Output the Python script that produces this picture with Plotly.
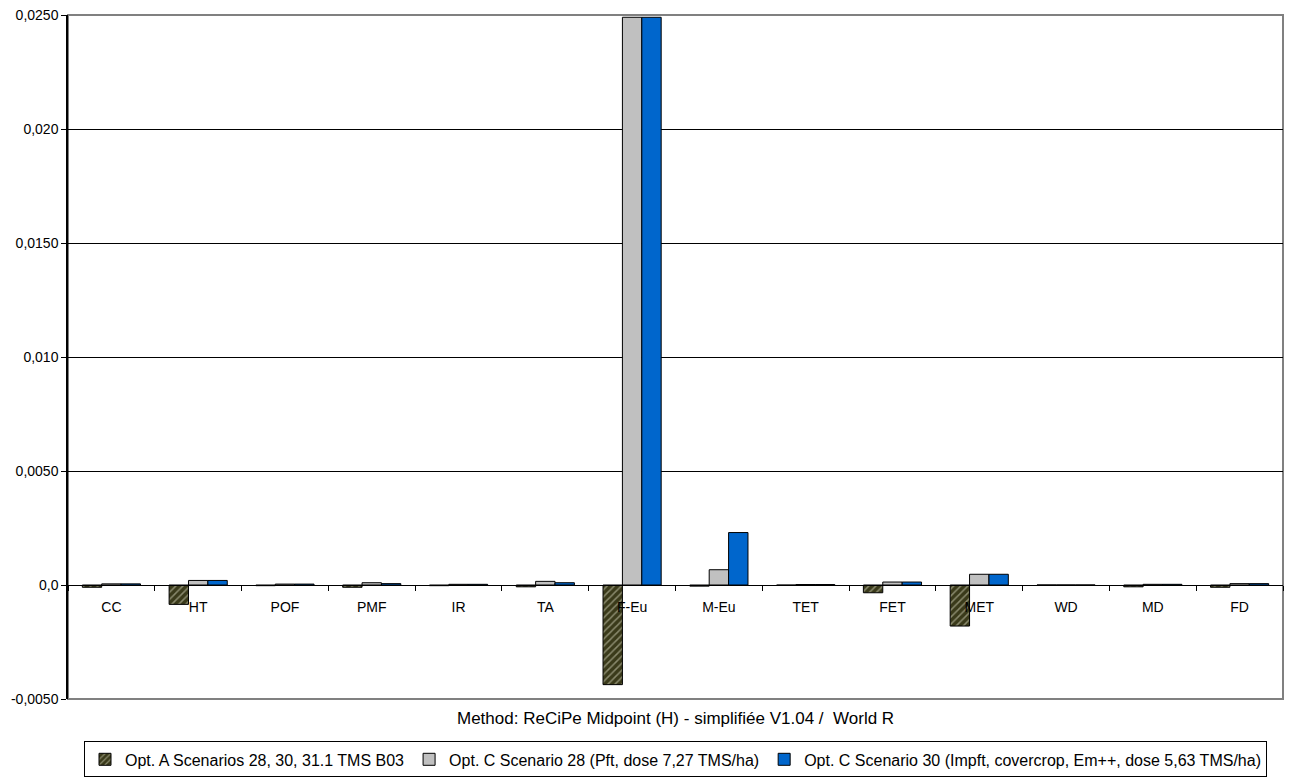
import plotly.graph_objects as go

categories = ["CC", "HT", "POF", "PMF", "IR", "TA", "F-Eu", "M-Eu",
              "TET", "FET", "MET", "WD", "MD", "FD"]

series_names = [
    "Opt. A Scenarios 28, 30, 31.1 TMS B03",
    "Opt. C Scenario 28 (Pft, dose 7,27 TMS/ha)",
    "Opt. C Scenario 30 (Impft, covercrop, Em++, dose 5,63 TMS/ha)",
]

opt_a = [-0.00010, -0.00085, -0.00003, -0.00010, -0.00003, -0.00008, -0.00437,
         -0.00005, -0.00001, -0.00034, -0.00180, 0.0, -0.00008, -0.00010]
opt_c28 = [0.00005, 0.00020, 0.00004, 0.00010, 0.00003, 0.00016, 0.02490,
           0.00067, 0.00002, 0.00013, 0.00047, 0.0, 0.00003, 0.00006]
opt_c30 = [0.00005, 0.00020, 0.00004, 0.00006, 0.00003, 0.00010, 0.02490,
           0.00230, 0.00002, 0.00013, 0.00047, 0.0, 0.00003, 0.00006]

y_tickvals = [-0.005, 0.0, 0.005, 0.010, 0.015, 0.020, 0.025]
y_ticktext = ["-0,0050", "0,0", "0,0050", "0,010", "0,0150", "0,020", "0,0250"]

x_title = "Method: ReCiPe Midpoint (H) - simplifiée V1.04 /  World R"

font_family = "Liberation Sans, Arial, sans-serif"

fig = go.Figure()
fig.add_trace(go.Bar(
    x=categories, y=opt_a, name=series_names[0],
    marker=dict(color="#3a3a1a",
                line=dict(color="black", width=1),
                pattern=dict(shape="/", fgcolor="#d8d8c0", size=5,
                             solidity=0.3, fillmode="overlay")),
))
fig.add_trace(go.Bar(
    x=categories, y=opt_c28, name=series_names[1],
    marker=dict(color="#c0c0c0", line=dict(color="black", width=1)),
))
fig.add_trace(go.Bar(
    x=categories, y=opt_c30, name=series_names[2],
    marker=dict(color="#0066cc", line=dict(color="black", width=1)),
))

fig.update_layout(
    width=1292, height=778,
    margin=dict(l=68, r=9, t=15, b=79, autoexpand=False),
    paper_bgcolor="white", plot_bgcolor="white",
    barmode="group", bargap=0.33, bargroupgap=0,
    font=dict(family=font_family, size=14, color="black"),
    showlegend=True,
    legend=dict(orientation="h", x=0.5, xanchor="center",
                y=-0.062, yanchor="top",
                bordercolor="black", borderwidth=1,
                font=dict(size=16, family=font_family),
                itemwidth=30, tracegroupgap=0,
                bgcolor="white"),
    shapes=[
        dict(type="rect", xref="paper", yref="paper", x0=0, x1=1, y0=0, y1=1,
             line=dict(color="#808080", width=2), layer="below"),
    ],
    annotations=[
        dict(text=x_title, xref="paper", yref="paper", x=0.5, y=-0.029,
             xanchor="center", yanchor="middle", showarrow=False,
             font=dict(size=17, family=font_family)),
    ],
)

fig.update_xaxes(
    type="category",
    anchor="free", position=1 / 6,
    showline=True, linecolor="black", linewidth=1,
    ticks="outside", tickson="boundaries", ticklen=5, tickcolor="black",
    showgrid=False, ticklabelstandoff=9,
    tickfont=dict(size=14),
)
fig.update_yaxes(
    range=[-0.005, 0.025],
    tickvals=y_tickvals, ticktext=y_ticktext,
    showline=True, linecolor="black", linewidth=1.5,
    ticks="outside", ticklen=5, tickcolor="black",
    showgrid=True, gridcolor="black", gridwidth=1,
    zeroline=False,
    tickfont=dict(size=14),
)

fig.write_html("out.html")
